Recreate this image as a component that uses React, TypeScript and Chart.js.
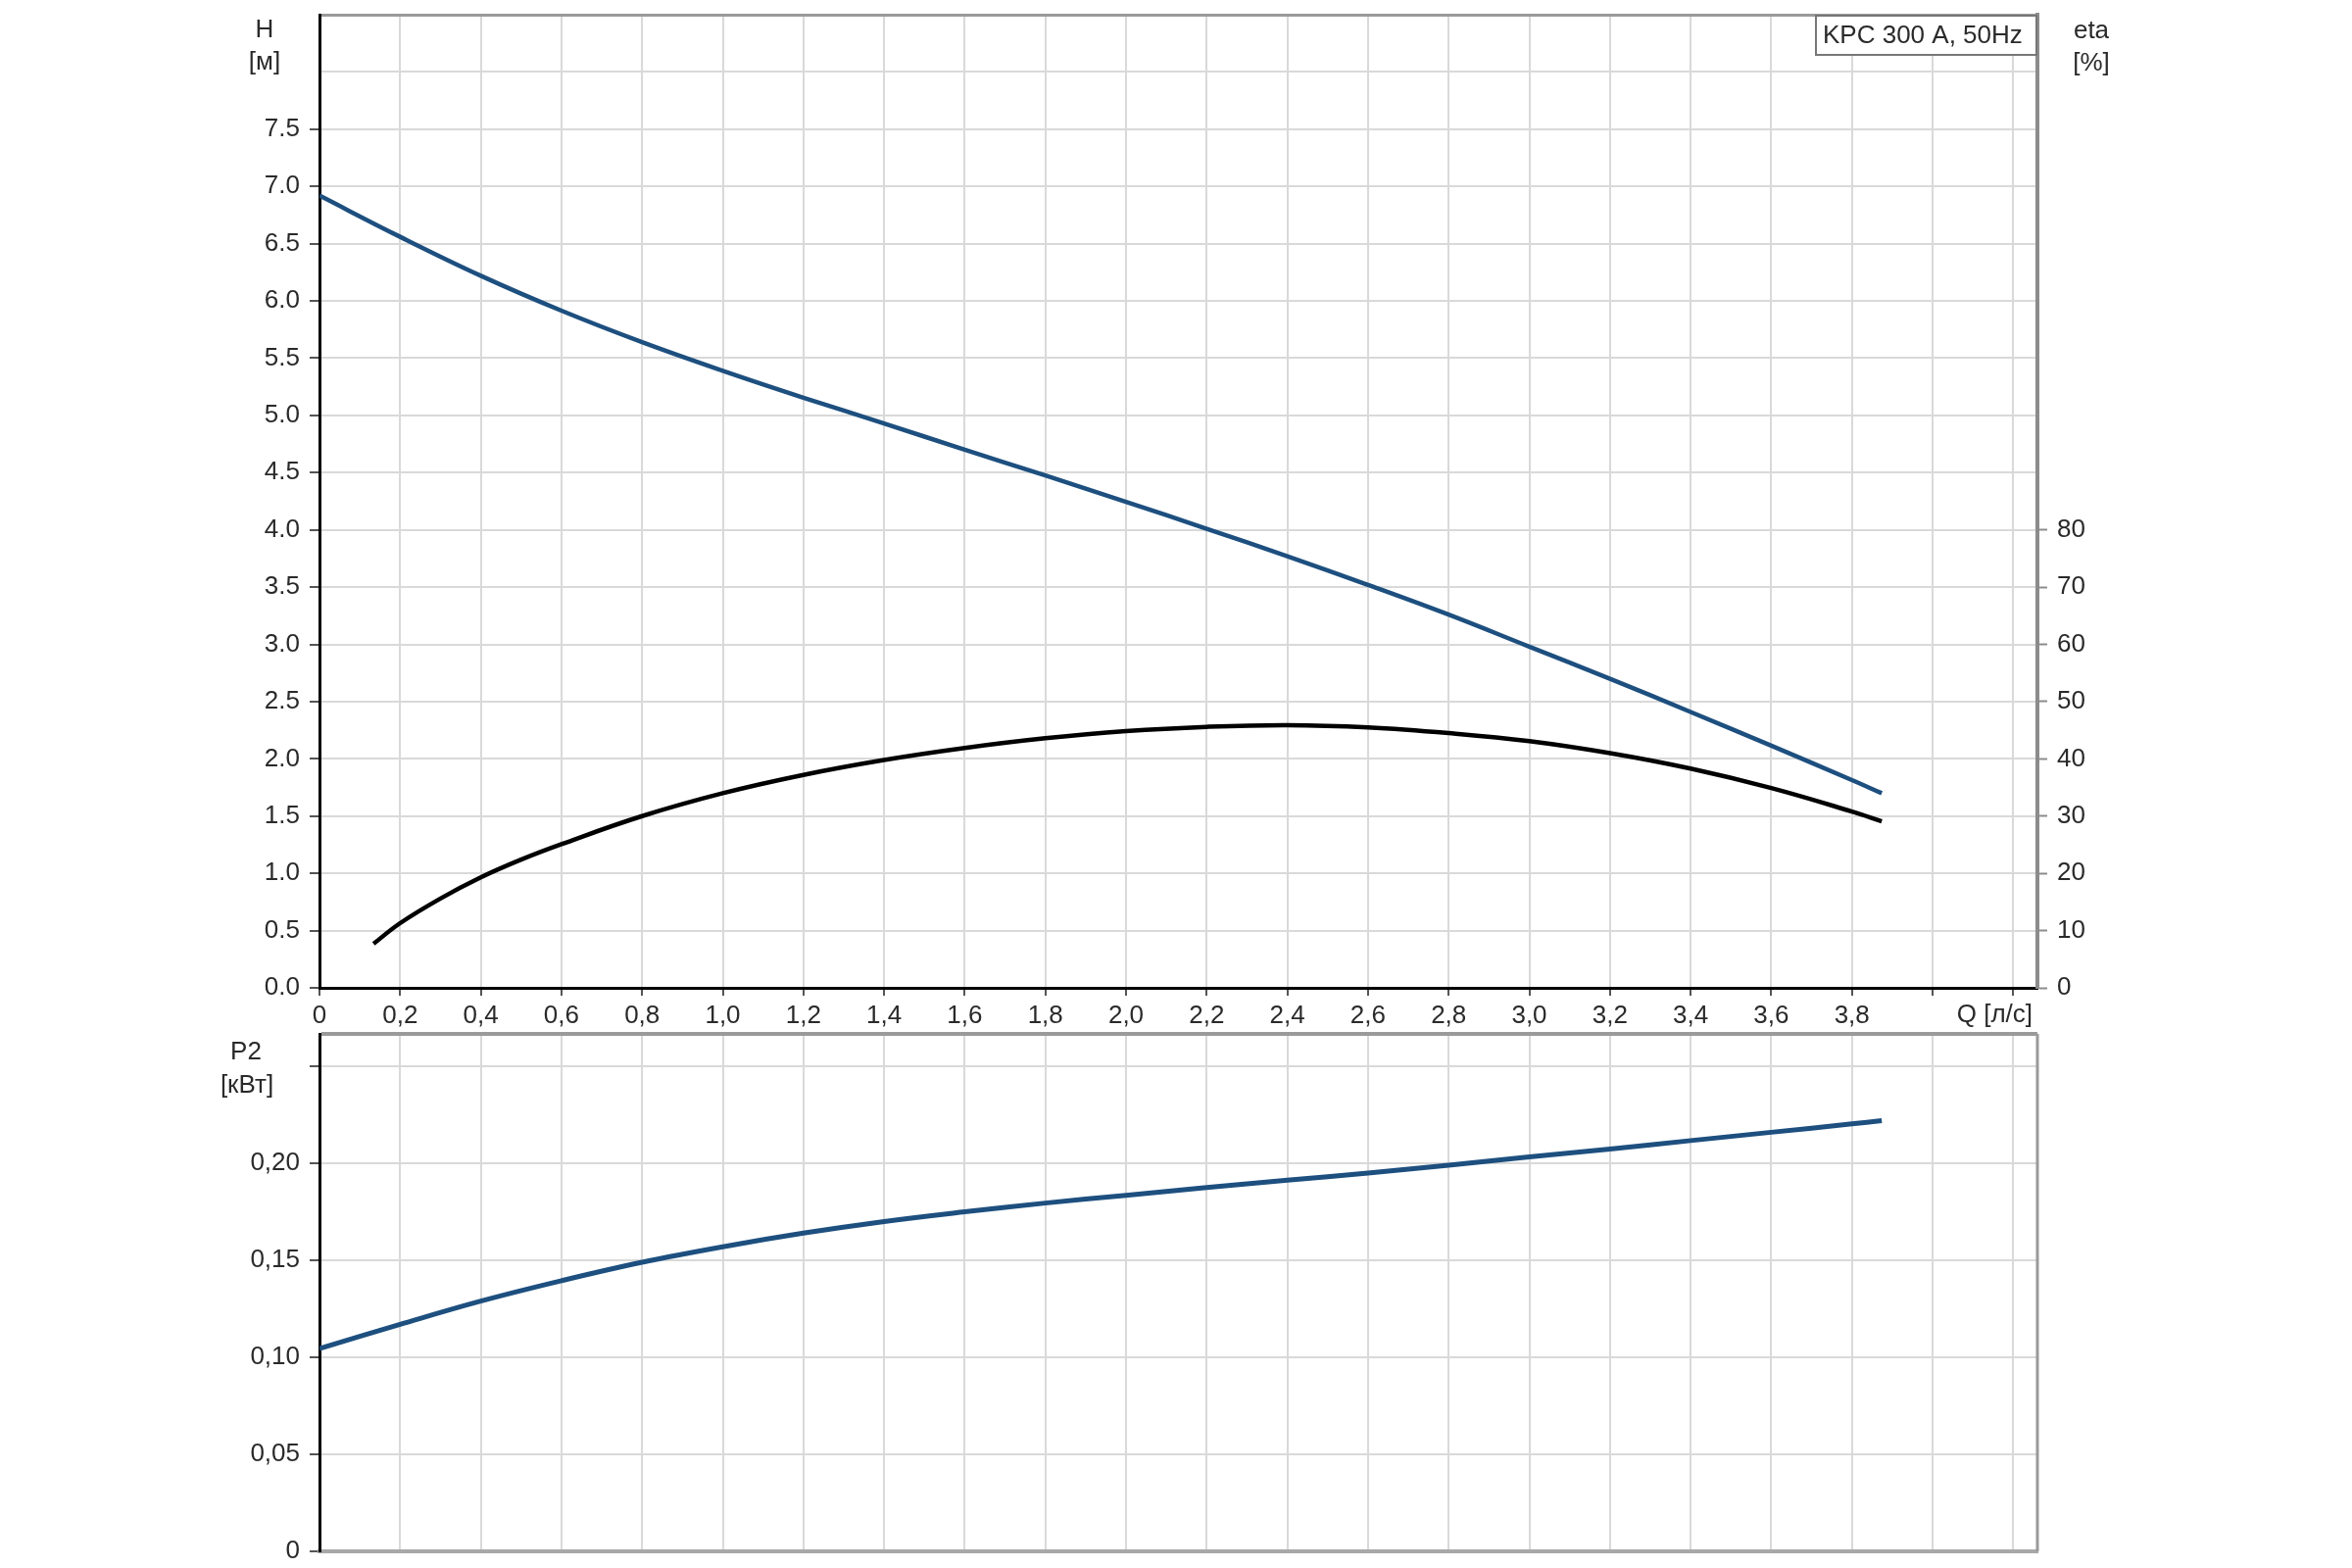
import React, { useEffect, useRef } from 'react';
import { Chart, registerables } from 'chart.js';

Chart.register(...registerables);

// ---- data ----
const qHead = [0, 0.2, 0.4, 0.6, 0.8, 1.0, 1.2, 1.4, 1.6, 1.8, 2.0, 2.2, 2.4, 2.6, 2.8, 3.0, 3.2, 3.4, 3.6, 3.8, 3.874];
const headM = [6.92, 6.56, 6.22, 5.915, 5.64, 5.39, 5.155, 4.93, 4.70, 4.475, 4.245, 4.01, 3.77, 3.52, 3.26, 2.98, 2.70, 2.41, 2.115, 1.815, 1.70];

const qEta = [0.134, 0.2, 0.3, 0.4, 0.5, 0.6, 0.8, 1.0, 1.2, 1.4, 1.6, 1.8, 2.0, 2.2, 2.4, 2.6, 2.8, 3.0, 3.2, 3.4, 3.6, 3.8, 3.874];
const etaPct = [7.7, 11.3, 15.6, 19.3, 22.4, 25.1, 30.0, 34.0, 37.2, 39.8, 41.9, 43.6, 44.85, 45.6, 45.9, 45.5, 44.5, 43.1, 41.0, 38.3, 34.9, 30.8, 29.1];

const qPower = [0, 0.2, 0.4, 0.6, 0.8, 1.0, 1.2, 1.4, 1.6, 1.8, 2.0, 2.2, 2.4, 2.6, 2.8, 3.0, 3.2, 3.4, 3.6, 3.8, 3.874];
const powerKw = [0.1045, 0.117, 0.129, 0.1395, 0.149, 0.157, 0.164, 0.170, 0.175, 0.1795, 0.1835, 0.1875, 0.1913, 0.195, 0.199, 0.2033, 0.2074, 0.2117, 0.216, 0.2203, 0.222];

const qTicks = [0, 0.2, 0.4, 0.6, 0.8, 1.0, 1.2, 1.4, 1.6, 1.8, 2.0, 2.2, 2.4, 2.6, 2.8, 3.0, 3.2, 3.4, 3.6, 3.8, 4.0, 4.2];
const qLabelMax = 3.8;
const hTicks = [0, 0.5, 1.0, 1.5, 2.0, 2.5, 3.0, 3.5, 4.0, 4.5, 5.0, 5.5, 6.0, 6.5, 7.0, 7.5, 8.0, 8.5];
const hLabelMax = 7.5;
const etaTicks = [0, 10, 20, 30, 40, 50, 60, 70, 80];
const pTicks = [0, 0.05, 0.10, 0.15, 0.20, 0.25, 0.2667];
const pLabelMax = 0.20;

const Q_MAX = 4.26;
const H_MAX = 8.5;
const ETA_MAX = 170;
const P_MAX = 0.2667;

const legendText = 'KPC 300 A, 50Hz';
const hTitle = ['H', '[м]'];
const etaTitle = ['eta', '[%]'];
const qTitle = 'Q [л/с]';
const pTitle = ['P2', '[кВт]'];

// ---- styles ----
const FONT_FAMILY = '"Liberation Sans", Arial, sans-serif';
const FONT_SIZE = 26;
const TEXT = '#2a2a2a';
const GRID = '#d9d9d9';
const BLUE = '#1d4f7f';
const TICK = '#555555';

const fmtQ = (v: number) => (v > qLabelMax + 1e-6 ? '' : v === 0 ? '0' : v.toFixed(1).replace('.', ','));
const fmtH = (v: number) => (v > hLabelMax + 1e-6 ? '' : v.toFixed(1));
const fmtP = (v: number) => (v > pLabelMax + 1e-6 ? '' : v === 0 ? '0' : v.toFixed(2).replace('.', ','));

const setTicks = (vals: number[]) => (s: any) => {
  s.ticks = vals.map((v) => ({ value: v }));
};
const fitY = (w: number) => (s: any) => {
  s.width = w;
  s.paddingTop = 0;
  s.paddingBottom = 0;
};
const fitX = (h: number) => (s: any) => {
  s.height = h;
  s.paddingLeft = 0;
  s.paddingRight = 0;
};

function drawText(ctx: CanvasRenderingContext2D, t: string, x: number, y: number, align: CanvasTextAlign) {
  ctx.textAlign = align;
  ctx.textBaseline = 'middle';
  ctx.fillText(t, x, y);
}

const topTextPlugin = {
  id: 'topTexts',
  afterDraw(chart: any) {
    const ctx = chart.ctx as CanvasRenderingContext2D;
    const a = chart.chartArea;
    ctx.save();
    ctx.font = `${FONT_SIZE}px ${FONT_FAMILY}`;
    ctx.fillStyle = TEXT;
    drawText(ctx, hTitle[0], 270, 31, 'center');
    drawText(ctx, hTitle[1], 270, 64, 'center');
    drawText(ctx, etaTitle[0], 2134, 32, 'center');
    drawText(ctx, etaTitle[1], 2134, 65, 'center');
    drawText(ctx, qTitle, a.right - 5, 1036, 'right');
    // legend box
    const bx = 1852, by = a.top, bw = a.right - 1852, bh = 42;
    ctx.fillStyle = '#ffffff';
    ctx.fillRect(bx, by, bw, bh);
    ctx.strokeStyle = '#777777';
    ctx.lineWidth = 2;
    ctx.strokeRect(bx + 1, by + 1, bw - 2, bh - 2);
    ctx.fillStyle = TEXT;
    drawText(ctx, legendText, bx + 8, by + 22, 'left');
    ctx.restore();
  },
};

const bottomTextPlugin = {
  id: 'bottomTexts',
  afterDraw(chart: any) {
    const ctx = chart.ctx as CanvasRenderingContext2D;
    const a = chart.chartArea;
    ctx.save();
    ctx.font = `${FONT_SIZE}px ${FONT_FAMILY}`;
    ctx.fillStyle = TEXT;
    drawText(ctx, pTitle[0], 251, 24, 'center');
    drawText(ctx, pTitle[1], 252, 58, 'center');
    ctx.strokeStyle = '#9a9a9a';
    ctx.lineWidth = 3;
    ctx.beginPath();
    ctx.moveTo(a.right, a.top);
    ctx.lineTo(a.right, a.bottom);
    ctx.stroke();
    ctx.restore();
  },
};

const font = { family: FONT_FAMILY, size: FONT_SIZE };

export default function App() {
  const topRef = useRef<HTMLCanvasElement | null>(null);
  const botRef = useRef<HTMLCanvasElement | null>(null);

  useEffect(() => {
    const top = new Chart(topRef.current as HTMLCanvasElement, {
      type: 'line',
      data: {
        datasets: [
          {
            data: qHead.map((q, i) => ({ x: q, y: headM[i] })),
            yAxisID: 'y',
            borderColor: BLUE,
            borderWidth: 4.5,
            pointRadius: 0,
            tension: 0.4,
            fill: false,
          },
          {
            data: qEta.map((q, i) => ({ x: q, y: etaPct[i] })),
            yAxisID: 'eta',
            borderColor: '#000000',
            borderWidth: 4.5,
            pointRadius: 0,
            tension: 0.4,
            fill: false,
          },
        ],
      },
      options: {
        animation: false,
        responsive: false,
        maintainAspectRatio: false,
        layout: { padding: { top: 15, left: 0, right: 0, bottom: 0 } },
        plugins: { legend: { display: false }, tooltip: { enabled: false } },
        scales: {
          x: {
            type: 'linear',
            min: 0,
            max: Q_MAX,
            afterBuildTicks: setTicks(qTicks),
            afterFit: fitX(42),
            ticks: { callback: (v: any) => fmtQ(Number(v)), font, color: TEXT, padding: 5, maxRotation: 0, autoSkip: false },
            grid: { color: GRID, lineWidth: 2, tickLength: 8, tickColor: TICK, tickWidth: 2 },
            border: { color: '#000000', width: 3 },
          },
          y: {
            type: 'linear',
            position: 'left',
            min: 0,
            max: H_MAX,
            afterBuildTicks: setTicks(hTicks),
            afterFit: fitY(326),
            ticks: { callback: (v: any) => fmtH(Number(v)), font, color: TEXT, padding: 10, autoSkip: false },
            grid: {
              color: (c: any) => (c.tick && c.tick.value >= H_MAX - 1e-6 ? '#9a9a9a' : GRID),
              lineWidth: (c: any) => (c.tick && c.tick.value >= H_MAX - 1e-6 ? 3 : 2),
              tickLength: 10,
              tickWidth: 2,
              tickColor: (c: any) => (c.tick && c.tick.value > hLabelMax + 1e-6 ? 'rgba(0,0,0,0)' : TICK),
            },
            border: { color: '#000000', width: 3 },
          },
          eta: {
            type: 'linear',
            position: 'right',
            min: 0,
            max: ETA_MAX,
            afterBuildTicks: setTicks(etaTicks),
            afterFit: fitY(2400 - 2079),
            ticks: { callback: (v: any) => String(v), font, color: TEXT, padding: 10, autoSkip: false },
            grid: { drawOnChartArea: false, tickLength: 10, tickWidth: 2, tickColor: '#8c8c8c' },
            border: { color: '#8c8c8c', width: 4 },
          },
        },
      } as any,
      plugins: [topTextPlugin],
    });

    const bottom = new Chart(botRef.current as HTMLCanvasElement, {
      type: 'line',
      data: {
        datasets: [
          {
            data: qPower.map((q, i) => ({ x: q, y: powerKw[i] })),
            borderColor: BLUE,
            borderWidth: 5,
            pointRadius: 0,
            tension: 0.4,
            fill: false,
          },
        ],
      },
      options: {
        animation: false,
        responsive: false,
        maintainAspectRatio: false,
        layout: { padding: { top: 5, left: 0, right: 2400 - 2079, bottom: 0 } },
        plugins: { legend: { display: false }, tooltip: { enabled: false } },
        scales: {
          x: {
            type: 'linear',
            min: 0,
            max: Q_MAX,
            afterBuildTicks: setTicks(qTicks),
            afterFit: fitX(17),
            ticks: { display: false },
            grid: { color: GRID, lineWidth: 2, drawTicks: false },
            border: { color: '#a8a8a8', width: 4 },
          },
          y: {
            type: 'linear',
            position: 'left',
            min: 0,
            max: P_MAX,
            afterBuildTicks: setTicks(pTicks),
            afterFit: fitY(326),
            ticks: { callback: (v: any) => fmtP(Number(v)), font, color: TEXT, padding: 10, autoSkip: false },
            grid: {
              color: (c: any) => (c.tick && c.tick.value >= P_MAX - 1e-6 ? '#9a9a9a' : GRID),
              lineWidth: (c: any) => (c.tick && c.tick.value >= P_MAX - 1e-6 ? 4 : 2),
              tickLength: 10,
              tickWidth: 2,
              tickColor: (c: any) => (c.tick && c.tick.value >= P_MAX - 1e-6 ? 'rgba(0,0,0,0)' : TICK),
            },
            border: { color: '#000000', width: 3 },
          },
        },
      } as any,
      plugins: [bottomTextPlugin],
    });

    return () => {
      top.destroy();
      bottom.destroy();
    };
  }, []);

  return (
    <div style={{ position: 'absolute', left: 0, top: 0, width: 2400, height: 1600, background: '#ffffff' }}>
      <canvas ref={topRef} width={2400} height={1050} style={{ position: 'absolute', left: 0, top: 0, width: 2400, height: 1050 }} />
      <canvas ref={botRef} width={2400} height={550} style={{ position: 'absolute', left: 0, top: 1050, width: 2400, height: 550 }} />
    </div>
  );
}
